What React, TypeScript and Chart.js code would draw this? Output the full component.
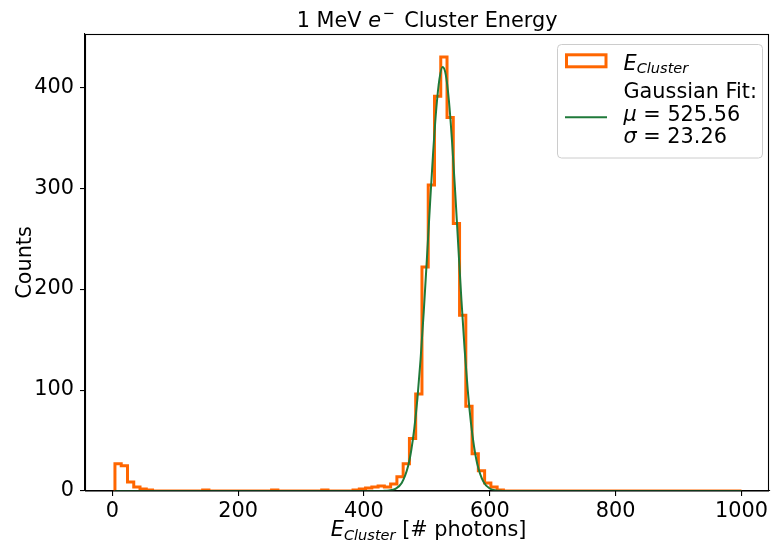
import React, { useEffect, useRef } from "react";
import { Chart, registerables } from "chart.js";

Chart.register(...registerables);

// ---- data ----
const BIN_START = 4.3;
const BIN_END = 1000;
const HIST_COUNTS = [
  27, 25, 9, 4, 2, 1, 0, 0, 0, 0,
  0, 0, 0, 0, 1, 0, 0, 0, 0, 0,
  0, 0, 0, 0, 0, 1, 0, 0, 0, 0,
  0, 0, 0, 1, 0, 0, 0, 0, 1, 2,
  3, 4, 5, 4, 7, 14, 27, 52, 96, 222,
  303, 391, 430, 370, 265, 174, 84, 37, 20, 8,
  4, 1, 0, 0, 0, 0, 0, 0, 0, 0,
  0, 0, 0, 0, 0, 0, 0, 0, 0, 0,
  0, 0, 0, 0, 0, 0, 0, 0, 0, 0,
  0, 0, 0, 0, 0, 0, 0, 0, 0, 0,
];
const FIT_X = [4, 420, 430, 440, 450, 460, 470, 475, 480, 485, 490, 495, 500, 505, 510, 515, 520, 525, 530, 535, 540, 545, 550, 555, 560, 565, 570, 575, 580, 590, 600, 610, 620, 630, 1000];
const FIT_Y = [0, 0, 0.1, 0.5, 2.2, 7.9, 24.2, 39.6, 61.7, 91.8, 130.5, 177.2, 229.7, 284.2, 335.8, 378.9, 408.2, 419.9, 412.4, 386.8, 346.4, 296.2, 241.8, 188.5, 140.3, 99.7, 67.7, 43.9, 27.1, 9.0, 2.5, 0.6, 0.1, 0, 0];
const X_TICKS = [0, 200, 400, 600, 800, 1000];
const Y_TICKS = [0, 100, 200, 300, 400];
const FIT_MU = "525.56";
const FIT_SIGMA = "23.26";

const X_MIN = -43.3;
const X_MAX = 1044;
const Y_MIN = 0;
const Y_MAX = 452.7;

const ORANGE = "#ff6600";
const GREEN = "#1f7a3a";
const FAM = '"DejaVu Sans"';
const FS = 20.8;
const SUB = FS * 0.7;
const N = `${FS}px ${FAM}`;
const I = `italic ${FS}px ${FAM}`;
const NS = `${SUB}px ${FAM}`;
const IS = `italic ${SUB}px ${FAM}`;

type Seg = { t: string; f: string; dy?: number; gap?: number };

function drawSegs(ctx: CanvasRenderingContext2D, segs: Seg[], x: number, y: number, align: "left" | "center") {
  ctx.textAlign = "left";
  ctx.textBaseline = "alphabetic";
  const widths = segs.map((s) => {
    ctx.font = s.f;
    return ctx.measureText(s.t).width + (s.gap || 0);
  });
  const total = widths.reduce((a, b) => a + b, 0);
  let cx = align === "center" ? x - total / 2 : x;
  segs.forEach((s, i) => {
    ctx.font = s.f;
    ctx.fillText(s.t, cx, y + (s.dy || 0));
    cx += widths[i];
  });
}

const decorPlugin = {
  id: "decor",
  afterDatasetsDraw(chart: any) {
    const ctx: CanvasRenderingContext2D = chart.ctx;
    const a = chart.chartArea;
    ctx.save();
    // spines
    ctx.strokeStyle = "#000";
    ctx.lineWidth = 1.1;
    ctx.strokeRect(Math.round(a.left) + 0.5, Math.round(a.top) + 0.5, Math.round(a.right - a.left) - 1, Math.round(a.bottom - a.top) - 0.5);
    ctx.fillStyle = "#000";
    // title
    drawSegs(ctx, [
      { t: "1 MeV ", f: N },
      { t: "e", f: I, gap: 1.5 },
      { t: "\u2212", f: NS, dy: -9.5, gap: 3 },
      { t: " Cluster Energy", f: N },
    ], (a.left + a.right) / 2, 27, "center");
    // x label
    drawSegs(ctx, [
      { t: "E", f: I },
      { t: "Cluster", f: IS, dy: 3.5 },
      { t: " [# photons]", f: N },
    ], (a.left + a.right) / 2 + 1.5, 536, "center");
    // y label
    ctx.save();
    ctx.translate(30.5, (a.top + a.bottom) / 2);
    ctx.rotate(-Math.PI / 2);
    ctx.font = N;
    ctx.textAlign = "center";
    ctx.textBaseline = "alphabetic";
    ctx.fillText("Counts", 0, 0);
    ctx.restore();
    // legend
    ctx.beginPath();
    (ctx as any).roundRect(557.5, 44.5, 205, 113.5, 4);
    ctx.fillStyle = "rgba(255,255,255,0.8)";
    ctx.fill();
    ctx.strokeStyle = "#cccccc";
    ctx.lineWidth = 1;
    ctx.stroke();
    ctx.strokeStyle = ORANGE;
    ctx.lineWidth = 3;
    ctx.lineJoin = "miter";
    ctx.strokeRect(566.5, 54.8, 39.5, 12);
    ctx.strokeStyle = GREEN;
    ctx.lineWidth = 2;
    ctx.beginPath();
    ctx.moveTo(565, 117.3);
    ctx.lineTo(607, 117.3);
    ctx.stroke();
    ctx.fillStyle = "#000";
    drawSegs(ctx, [{ t: "E", f: I }, { t: "Cluster", f: IS, dy: 3 }], 623.5, 69.5, "left");
    drawSegs(ctx, [{ t: "Gaussian Fit:", f: N }], 623.5, 98.3, "left");
    drawSegs(ctx, [{ t: "\u03bc", f: I }, { t: " = " + FIT_MU, f: N }], 623.5, 121.3, "left");
    drawSegs(ctx, [{ t: "\u03c3", f: I }, { t: " = " + FIT_SIGMA, f: N }], 623.5, 143.3, "left");
    ctx.restore();
  },
};

export default function App() {
  const ref = useRef<HTMLCanvasElement | null>(null);
  useEffect(() => {
    if (!ref.current) return;
    const nb = HIST_COUNTS.length;
    const w = (BIN_END - BIN_START) / nb;
    const edges = Array.from({ length: nb + 1 }, (_, i) => BIN_START + i * w);
    // step outline: value of bin i spans edges[i]..edges[i+1]
    const histPts: { x: number; y: number }[] = [{ x: edges[0], y: 0 }];
    HIST_COUNTS.forEach((c, i) => {
      histPts.push({ x: edges[i], y: c });
      histPts.push({ x: edges[i + 1], y: c });
    });
    histPts.push({ x: edges[nb], y: 0 });
    const fitPts = FIT_X.map((x, i) => ({ x, y: FIT_Y[i] }));

    const tickFont = { family: FAM, size: FS };
    const chart = new Chart(ref.current, {
      type: "line",
      data: {
        datasets: [
          {
            label: "fit",
            data: fitPts,
            borderColor: GREEN,
            borderWidth: 2,
            pointRadius: 0,
            cubicInterpolationMode: "monotone",
            fill: false,
            order: 0,
          } as any,
          {
            label: "hist",
            data: histPts,
            borderColor: ORANGE,
            borderWidth: 3,
            pointRadius: 0,
            tension: 0,
            borderJoinStyle: "miter",
            fill: false,
            order: 1,
          } as any,
        ],
      },
      options: {
        animation: false,
        responsive: false,
        devicePixelRatio: 1,
        layout: { padding: { top: 34, right: 1, left: 0, bottom: 0 } },
        plugins: { legend: { display: false }, title: { display: false }, tooltip: { enabled: false } },
        scales: {
          x: {
            type: "linear",
            min: X_MIN,
            max: X_MAX,
            afterBuildTicks: (ax: any) => { ax.ticks = X_TICKS.map((v) => ({ value: v })); },
            afterFit: (ax: any) => { ax.height = 53; },
            grid: { drawOnChartArea: false, drawTicks: true, tickLength: 5, color: "#000", lineWidth: 1.1 },
            border: { display: true, color: "#000", width: 1.1 },
            ticks: { font: tickFont, color: "#000", padding: 3, maxRotation: 0, autoSkip: false, callback: (v: any) => String(v) },
          },
          y: {
            type: "linear",
            min: Y_MIN,
            max: Y_MAX,
            afterBuildTicks: (ax: any) => { ax.ticks = Y_TICKS.map((v) => ({ value: v })); },
            afterFit: (ax: any) => { ax.width = 85; },
            grid: { drawOnChartArea: false, drawTicks: true, tickLength: 5, color: "#000", lineWidth: 1.1 },
            border: { display: true, color: "#000", width: 1.1 },
            ticks: { font: tickFont, color: "#000", padding: 6, autoSkip: false, callback: (v: any) => String(v) },
          },
        },
      } as any,
      plugins: [decorPlugin],
    });
    return () => chart.destroy();
  }, []);
  return (
    <div style={{ position: "fixed", left: 0, top: 0, width: 771, height: 544, background: "#fff" }}>
      <canvas ref={ref} width={771} height={544} style={{ display: "block", width: 771, height: 544 }} />
    </div>
  );
}
